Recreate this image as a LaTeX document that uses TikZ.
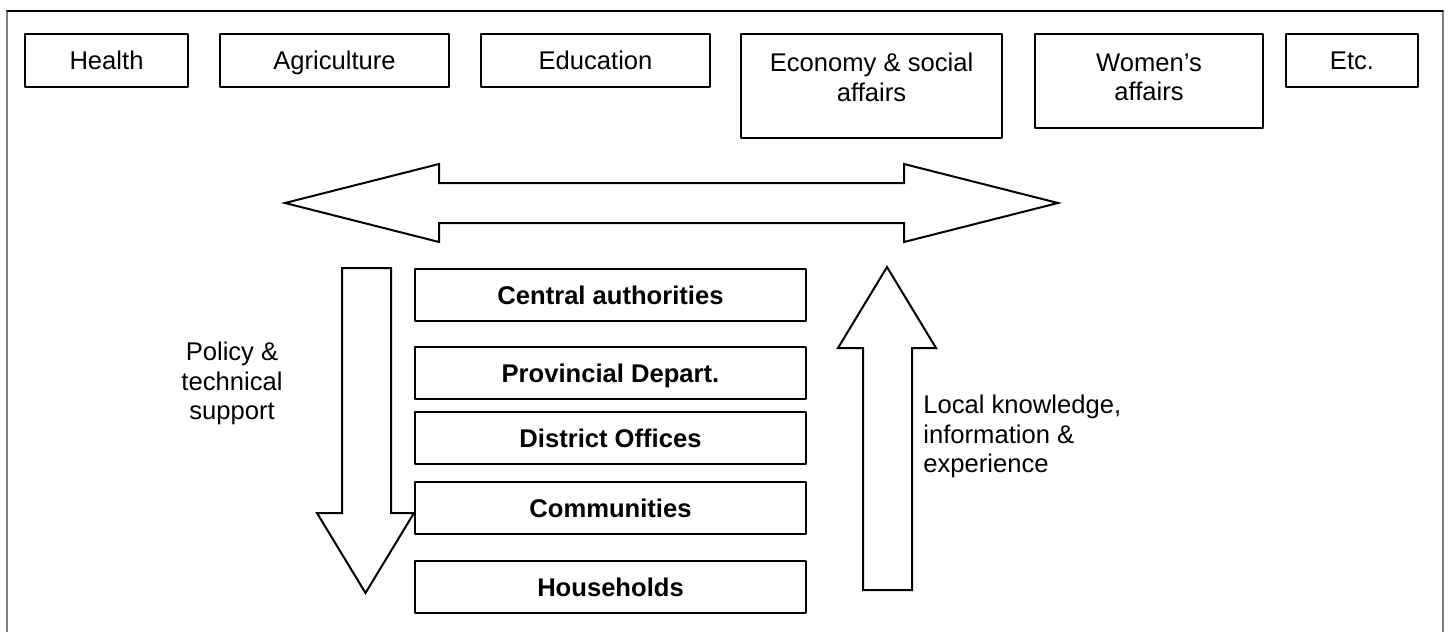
\documentclass[tikz,border=0pt]{standalone}
\usepackage{fontspec}
\setmainfont{Liberation Sans}
\usetikzlibrary{arrows}
\definecolor{sqsqsq}{rgb}{0.5,0.5,0.5}

\begin{document}
\begin{tikzpicture}[line cap=round,line join=round,x=0.5pt,y=-0.5pt,
	every node/.style={font=\fontsize{12.8}{14.7}\selectfont},
	topbox/.style={draw,line width=1pt,anchor=north west,inner sep=0pt,text height=9.2pt,text depth=0pt},
	levelbox/.style={topbox,font=\fontsize{12.8}{14.7}\selectfont\bfseries,minimum width=195.5pt,minimum height=26pt},
	toplabel/.style={anchor=north,align=center,inner sep=0pt,yshift=-10pt},
	blockarrow/.style={draw,line width=1pt,line join=miter}]
	\useasboundingbox (0,0) rectangle (1448,632);
	% frame, open at the bottom
	\draw[color=sqsqsq,line width=1pt] (7,632) -- (7,11);
	\draw[color=sqsqsq,line width=1pt] (1443,11) -- (1443,632);
	\draw[line width=0.6pt] (7,11) -- (1443,11);
	% sectors
	\node[topbox,minimum width=81.5pt,minimum height=26.5pt] (health) at (24,33) {Health};
	\node[topbox,minimum width=114.5pt,minimum height=26.5pt] (agri) at (219,33) {Agriculture};
	\node[topbox,minimum width=114.5pt,minimum height=26.5pt] (edu) at (480,33) {Education};
	\node[topbox,minimum width=130.5pt,minimum height=52pt,label={[toplabel]north:{Economy \& social\\affairs}}] (econ) at (740,33) {};
	\node[topbox,minimum width=114pt,minimum height=47pt,label={[toplabel]north:{Women’s\\affairs}}] (women) at (1034,33) {};
	\node[topbox,minimum width=66pt,minimum height=26.5pt] (etc) at (1285,33) {Etc.};
	% block arrows
	\draw[blockarrow] (285,203) -- (439,164) -- (439,183) -- (904,183) -- (904,164) -- (1058,203) -- (904,242) -- (904,223) -- (439,223) -- (439,242) -- cycle;
	\draw[blockarrow] (342,268) -- (391,268) -- (391,513) -- (414,513) -- (365.5,593) -- (317,513) -- (342,513) -- cycle;
	\draw[blockarrow] (863,590) -- (863,348) -- (838,348) -- (887,267) -- (936,348) -- (912,348) -- (912,590) -- cycle;
	% levels
	\node[levelbox] (central) at (414,268) {Central authorities};
	\node[levelbox] (prov) at (414,346) {Provincial Depart.};
	\node[levelbox] (district) at (414,411) {District Offices};
	\node[levelbox] (comm) at (414,481) {Communities};
	\node[levelbox] (house) at (414,560) {Households};
	% flow labels
	\node[anchor=north,align=center,inner sep=0pt] (policy) at (232,342) {Policy \&\\technical\\support};
	\node[anchor=north west,align=left,inner sep=0pt] (local) at (923,395) {Local knowledge,\\information \&\\experience};
\end{tikzpicture}
\end{document}
